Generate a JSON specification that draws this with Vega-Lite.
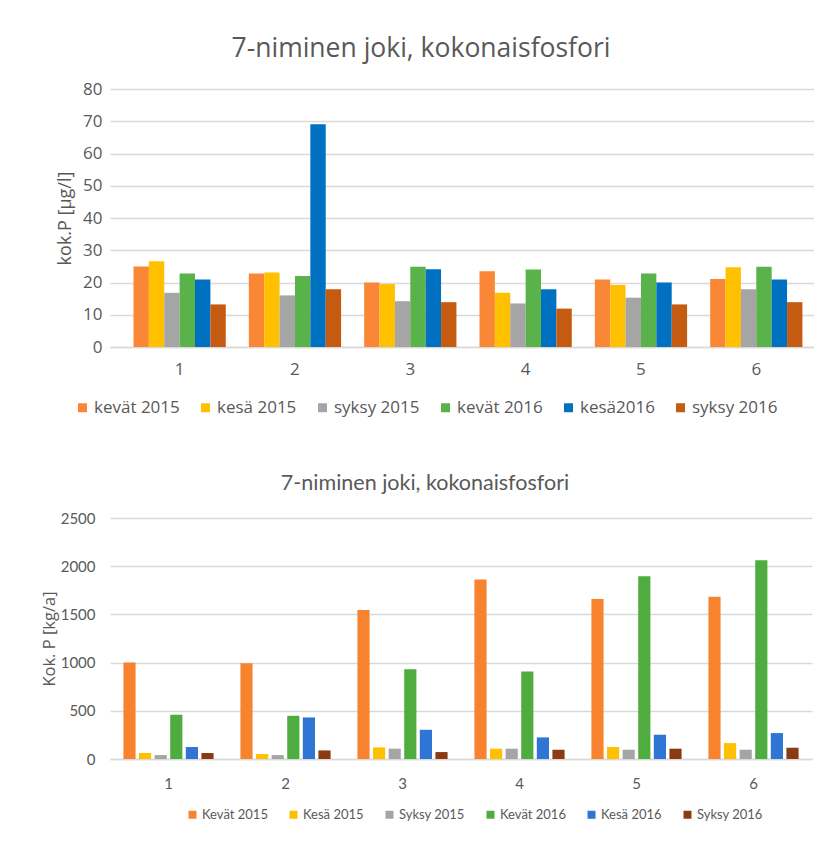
{
  "$schema": "https://vega.github.io/schema/vega-lite/v6.json",
  "background": "white",
  "padding": {"left": 41, "top": 35, "right": 0, "bottom": 0},
  "spacing": 56,
  "align": "none",
  "datasets": {
    "conc": [
      {"site": "1", "series": "kevät 2015", "value": 25.0},
      {"site": "1", "series": "kesä 2015", "value": 26.6},
      {"site": "1", "series": "syksy 2015", "value": 16.8},
      {"site": "1", "series": "kevät 2016", "value": 22.8},
      {"site": "1", "series": "kesä2016", "value": 20.9},
      {"site": "1", "series": "syksy 2016", "value": 13.2},
      {"site": "2", "series": "kevät 2015", "value": 22.8},
      {"site": "2", "series": "kesä 2015", "value": 23.1},
      {"site": "2", "series": "syksy 2015", "value": 16.0},
      {"site": "2", "series": "kevät 2016", "value": 22.0},
      {"site": "2", "series": "kesä2016", "value": 69.1},
      {"site": "2", "series": "syksy 2016", "value": 17.9},
      {"site": "3", "series": "kevät 2015", "value": 20.0},
      {"site": "3", "series": "kesä 2015", "value": 19.5},
      {"site": "3", "series": "syksy 2015", "value": 14.2},
      {"site": "3", "series": "kevät 2016", "value": 24.9},
      {"site": "3", "series": "kesä2016", "value": 24.1},
      {"site": "3", "series": "syksy 2016", "value": 13.9},
      {"site": "4", "series": "kevät 2015", "value": 23.5},
      {"site": "4", "series": "kesä 2015", "value": 16.8},
      {"site": "4", "series": "syksy 2015", "value": 13.5},
      {"site": "4", "series": "kevät 2016", "value": 24.0},
      {"site": "4", "series": "kesä2016", "value": 17.9},
      {"site": "4", "series": "syksy 2016", "value": 11.9},
      {"site": "5", "series": "kevät 2015", "value": 20.9},
      {"site": "5", "series": "kesä 2015", "value": 19.2},
      {"site": "5", "series": "syksy 2015", "value": 15.3},
      {"site": "5", "series": "kevät 2016", "value": 22.8},
      {"site": "5", "series": "kesä2016", "value": 20.0},
      {"site": "5", "series": "syksy 2016", "value": 13.2},
      {"site": "6", "series": "kevät 2015", "value": 21.1},
      {"site": "6", "series": "kesä 2015", "value": 24.7},
      {"site": "6", "series": "syksy 2015", "value": 17.9},
      {"site": "6", "series": "kevät 2016", "value": 24.9},
      {"site": "6", "series": "kesä2016", "value": 20.9},
      {"site": "6", "series": "syksy 2016", "value": 13.9}
    ],
    "load": [
      {"site": "1", "series": "Kevät 2015", "value": 1000},
      {"site": "1", "series": "Kesä 2015", "value": 62},
      {"site": "1", "series": "Syksy 2015", "value": 41},
      {"site": "1", "series": "Kevät 2016", "value": 459},
      {"site": "1", "series": "Kesä 2016", "value": 124},
      {"site": "1", "series": "Syksy 2016", "value": 62},
      {"site": "2", "series": "Kevät 2015", "value": 994},
      {"site": "2", "series": "Kesä 2015", "value": 52},
      {"site": "2", "series": "Syksy 2015", "value": 41},
      {"site": "2", "series": "Kevät 2016", "value": 448},
      {"site": "2", "series": "Kesä 2016", "value": 431},
      {"site": "2", "series": "Syksy 2016", "value": 89},
      {"site": "3", "series": "Kevät 2015", "value": 1546},
      {"site": "3", "series": "Kesä 2015", "value": 120},
      {"site": "3", "series": "Syksy 2015", "value": 107},
      {"site": "3", "series": "Kevät 2016", "value": 931},
      {"site": "3", "series": "Kesä 2016", "value": 303},
      {"site": "3", "series": "Syksy 2016", "value": 72},
      {"site": "4", "series": "Kevät 2015", "value": 1863},
      {"site": "4", "series": "Kesä 2015", "value": 107},
      {"site": "4", "series": "Syksy 2015", "value": 107},
      {"site": "4", "series": "Kevät 2016", "value": 907},
      {"site": "4", "series": "Kesä 2016", "value": 224},
      {"site": "4", "series": "Syksy 2016", "value": 96},
      {"site": "5", "series": "Kevät 2015", "value": 1659},
      {"site": "5", "series": "Kesä 2015", "value": 124},
      {"site": "5", "series": "Syksy 2015", "value": 96},
      {"site": "5", "series": "Kevät 2016", "value": 1897},
      {"site": "5", "series": "Kesä 2016", "value": 252},
      {"site": "5", "series": "Syksy 2016", "value": 107},
      {"site": "6", "series": "Kevät 2015", "value": 1683},
      {"site": "6", "series": "Kesä 2015", "value": 165},
      {"site": "6", "series": "Syksy 2015", "value": 96},
      {"site": "6", "series": "Kevät 2016", "value": 2063},
      {"site": "6", "series": "Kesä 2016", "value": 269},
      {"site": "6", "series": "Syksy 2016", "value": 117}
    ]
  },
  "config": {
    "view": {"stroke": null},
    "axis": {
      "gridColor": "#d9d9d9",
      "gridWidth": 1.5,
      "domain": false,
      "ticks": false,
      "tickSize": 0,
      "labelColor": "#595959",
      "titleColor": "#595959",
      "titleFontWeight": "normal"
    },
    "axisX": {"domain": true, "domainColor": "#d9d9d9", "domainWidth": 1.5},
    "legend": {"symbolType": "square", "symbolStrokeWidth": 0, "labelColor": "#595959"}
  },
  "resolve": {
    "scale": {"x": "independent", "y": "independent", "color": "independent", "xOffset": "independent"},
    "legend": {"color": "independent"}
  },
  "vconcat": [
    {
      "data": {"name": "conc"},
      "width": 704,
      "height": 258,
      "title": {
        "text": "7-niminen joki, kokonaisfosfori",
        "font": "Open Sans",
        "fontSize": 26.5,
        "fontWeight": "normal",
        "color": "#595959",
        "frame": "group",
        "anchor": "middle",
        "dx": -41,
        "offset": 18
      },
      "mark": {"type": "bar"},
      "encoding": {
        "x": {
          "field": "site",
          "type": "nominal",
          "scale": {"paddingInner": 0.2, "paddingOuter": 0.152, "align": 0.67},
          "axis": {"title": null, "labelAngle": 0, "labelFont": "Open Sans", "labelFontSize": 17, "labelPadding": 14, "grid": false}
        },
        "xOffset": {
          "field": "series",
          "type": "nominal",
          "sort": ["kevät 2015", "kesä 2015", "syksy 2015", "kevät 2016", "kesä2016", "syksy 2016"],
          "scale": {"paddingInner": 0, "paddingOuter": 0}
        },
        "y": {
          "field": "value",
          "type": "quantitative",
          "scale": {"domain": [0, 80]},
          "axis": {
            "title": "kok.P [µg/l]",
            "values": [0, 10, 20, 30, 40, 50, 60, 70, 80],
            "labelFont": "Open Sans",
            "labelFontSize": 17,
            "labelPadding": 8,
            "titleFont": "Open Sans",
            "titleFontSize": 18,
            "titlePadding": 8
          }
        },
        "color": {
          "field": "series",
          "type": "nominal",
          "scale": {
            "domain": ["kevät 2015", "kesä 2015", "syksy 2015", "kevät 2016", "kesä2016", "syksy 2016"],
            "range": ["#F98735", "#FFC000", "#A5A5A5", "#5AB24A", "#0070C0", "#C55A11"]
          },
          "legend": {
            "orient": "none",
            "legendX": -36,
            "legendY": 310,
            "direction": "horizontal",
            "columns": 6,
            "title": null,
            "symbolSize": 81,
            "labelFont": "Open Sans",
            "labelFontSize": 17,
            "columnPadding": 17,
            "labelOffset": 3
          }
        }
      }
    },
    {
      "data": {"name": "load"},
      "width": 702,
      "height": 241,
      "title": {
        "text": "7-niminen joki, kokonaisfosfori",
        "font": "Lato",
        "fontSize": 21.5,
        "fontWeight": "normal",
        "color": "#595959",
        "frame": "group",
        "anchor": "middle",
        "dx": -36,
        "offset": 17
      },
      "mark": {"type": "bar"},
      "encoding": {
        "x": {
          "field": "site",
          "type": "nominal",
          "scale": {"paddingInner": 0.2, "paddingOuter": 0.1},
          "axis": {"title": null, "labelAngle": 0, "labelFont": "Lato", "labelFontSize": 15, "labelPadding": 17, "grid": false}
        },
        "xOffset": {
          "field": "series",
          "type": "nominal",
          "sort": ["Kevät 2015", "Kesä 2015", "Syksy 2015", "Kevät 2016", "Kesä 2016", "Syksy 2016"],
          "scale": {"paddingInner": 0.22, "paddingOuter": 0.11}
        },
        "y": {
          "field": "value",
          "type": "quantitative",
          "scale": {"domain": [0, 2500]},
          "axis": {
            "title": "Kok. P [kg/a]",
            "values": [0, 500, 1000, 1500, 2000, 2500],
            "format": "d",
            "labelFont": "Lato",
            "labelFontSize": 15,
            "labelPadding": 15,
            "titleFont": "Open Sans",
            "titleFontSize": 16.5,
            "titlePadding": 3
          }
        },
        "color": {
          "field": "series",
          "type": "nominal",
          "scale": {
            "domain": ["Kevät 2015", "Kesä 2015", "Syksy 2015", "Kevät 2016", "Kesä 2016", "Syksy 2016"],
            "range": ["#F8832F", "#FFC000", "#A5A5A5", "#4EAD3E", "#2E75D6", "#8A3B12"]
          },
          "legend": {
            "orient": "none",
            "legendX": 76,
            "legendY": 290,
            "direction": "horizontal",
            "columns": 6,
            "title": null,
            "symbolSize": 64,
            "labelFont": "Lato",
            "labelFontSize": 13,
            "columnPadding": 19,
            "labelOffset": 3
          }
        }
      }
    }
  ]
}
